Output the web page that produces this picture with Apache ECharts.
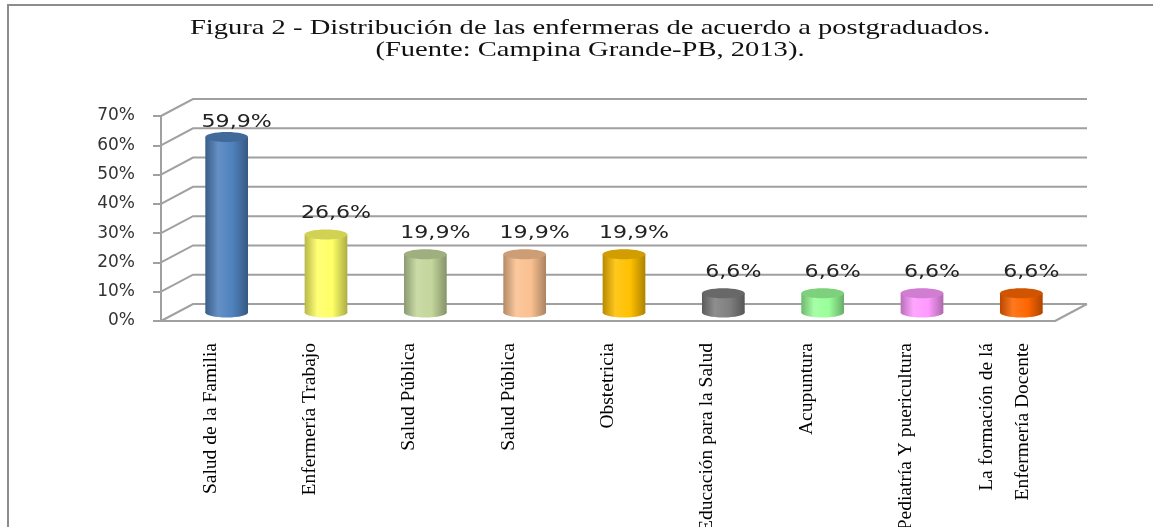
<!DOCTYPE html>
<html>
<head>
<meta charset="utf-8">
<title>Figura 2</title>
<script src="https://cdn.jsdelivr.net/npm/echarts@6/dist/echarts.min.js"></script>
<style>
html, body { margin: 0; padding: 0; background: #fff; }
#main { width: 1153px; height: 527px; }
</style>
</head>
<body>
<div id="main"></div>
<script>
// datos
var titleText = 'Figura 2 - Distribución de las enfermeras de acuerdo a postgraduados.\n(Fuente: Campina Grande-PB, 2013).';
var categories = ['Salud de la Familia', 'Enfermería Trabajo', 'Salud Pública', 'Salud Pública', 'Obstetricia',
    'Educación para la Salud', 'Acupuntura', 'Pediatría Y puericultura', 'La formación de lá\nEnfermería Docente'];
var values = [59.9, 26.6, 19.9, 19.9, 19.9, 6.6, 6.6, 6.6, 6.6];
var yTicks = [0, 10, 20, 30, 40, 50, 60, 70];

var barColors = ['#4f81bd', '#ffff66', '#c3d69b', '#fac090', '#ffc000', '#7f7f7f', '#99ff99', '#ff99ff', '#ff6600'];
var gridColor = '#a0a0a0';
// profundidad del efecto 3d
var DX = 32, DY = 17;

function shade(hex, f) {
    var n = parseInt(hex.slice(1), 16);
    var r = (n >> 16) & 255, g = (n >> 8) & 255, b = n & 255;
    if (f > 1) {
        var t = f - 1;
        r = r + (255 - r) * t; g = g + (255 - g) * t; b = b + (255 - b) * t;
    } else {
        r = r * f; g = g * f; b = b * f;
    }
    return 'rgb(' + Math.round(r) + ',' + Math.round(g) + ',' + Math.round(b) + ')';
}

function fmt(v) {
    return v.toFixed(1).replace('.', ',') + '%';
}

var renderWall = function(params, api) {
    var v = api.value(1);
    var cs = params.coordSys;
    var y = api.coord([0, v])[1];
    var x0 = cs.x, x1 = cs.x + cs.width;
    var lineStyle = { stroke: gridColor, lineWidth: 2, fill: null };
    var children = [{
        type: 'polyline',
        shape: { points: [[x0, y], [x0 + DX, y - DY], [x1 + DX, y - DY]] },
        style: lineStyle
    }];
    if (v === 0) {
        children.push({
            type: 'line',
            shape: { x1: x1, y1: y, x2: x1 + DX, y2: y - DY },
            style: lineStyle
        });
    }
    return { type: 'group', children: children };
};

var renderBar = function(params, api) {
    var idx = api.value(0);
    var v = api.value(1);
    var top = api.coord([idx, v]);
    var base = api.coord([idx, 0]);
    var cx = top[0] + DX / 2;
    var topY = top[1] - DY / 2;
    var baseY = base[1] - DY / 2;
    var w = api.size([1, 0])[0] * 0.43;
    var rx = w / 2, ry = 5;
    var c = barColors[idx];
    var grad = new echarts.graphic.LinearGradient(0, 0, 1, 0, [
        { offset: 0, color: shade(c, 0.72) },
        { offset: 0.3, color: shade(c, 1.12) },
        { offset: 0.65, color: c },
        { offset: 1, color: shade(c, 0.68) }
    ]);
    // la etiqueta no sube por encima del borde del grafico
    var labelY = Math.max(topY - 21, params.coordSys.y + 7);
    return {
        type: 'group',
        children: [{
            type: 'ellipse',
            shape: { cx: cx, cy: baseY, rx: rx, ry: ry },
            style: { fill: grad }
        }, {
            type: 'rect',
            shape: { x: cx - rx, y: topY, width: w, height: baseY - topY },
            style: { fill: grad }
        }, {
            type: 'ellipse',
            shape: { cx: cx, cy: topY, rx: rx, ry: ry },
            style: { fill: shade(c, 0.82) }
        }, {
            type: 'text',
            x: cx + 10,
            y: labelY,
            scaleX: 1.3,
            style: {
                text: fmt(v),
                x: 0,
                y: 0,
                align: 'center',
                verticalAlign: 'middle',
                font: '17px "DejaVu Sans"',
                fill: '#222'
            }
        }]
    };
};

var myChart = echarts.init(document.getElementById('main'));
myChart.setOption({
    backgroundColor: '#fff',
    animation: false,
    graphic: [{
        type: 'rect',
        shape: { x: 8, y: 5, width: 1200, height: 600 },
        style: { fill: null, stroke: '#8c8c8c', lineWidth: 2 },
        silent: true
    }, {
        // titulo: el original esta estirado en horizontal
        type: 'text',
        x: 590,
        y: 39,
        scaleX: 1.36,
        silent: true,
        style: {
            text: titleText,
            x: 0,
            y: 0,
            align: 'center',
            verticalAlign: 'middle',
            lineHeight: 22,
            font: '21px "Liberation Serif"',
            fill: '#111'
        }
    }],
    grid: { left: 161, right: 98, top: 116, bottom: 206, containLabel: false, outerBoundsMode: 'none' },
    xAxis: {
        type: 'category',
        data: categories,
        axisLine: { show: true, lineStyle: { color: gridColor, width: 2 } },
        axisTick: { show: false },
        splitLine: { show: false },
        axisLabel: {
            interval: 0,
            rotate: 90,
            margin: 22,
            fontFamily: 'Liberation Serif',
            fontSize: 19.5,
            lineHeight: 36,
            color: '#000'
        }
    },
    yAxis: {
        type: 'value',
        min: 0,
        max: 70,
        interval: 10,
        axisLine: { show: true, lineStyle: { color: gridColor, width: 2 } },
        axisTick: { show: true, length: 8, lineStyle: { color: gridColor, width: 2 } },
        splitLine: { show: false },
        axisLabel: {
            formatter: '{value}%',
            margin: 26,
            fontFamily: 'DejaVu Sans',
            fontSize: 17,
            color: '#333'
        }
    },
    series: [{
        type: 'custom',
        name: 'paredes',
        silent: true,
        z: 1,
        renderItem: renderWall,
        data: yTicks.map(function(t) { return [0, t]; })
    }, {
        type: 'custom',
        name: 'postgraduados',
        z: 3,
        renderItem: renderBar,
        data: values.map(function(v, i) { return [i, v]; })
    }]
});
</script>
</body>
</html>
